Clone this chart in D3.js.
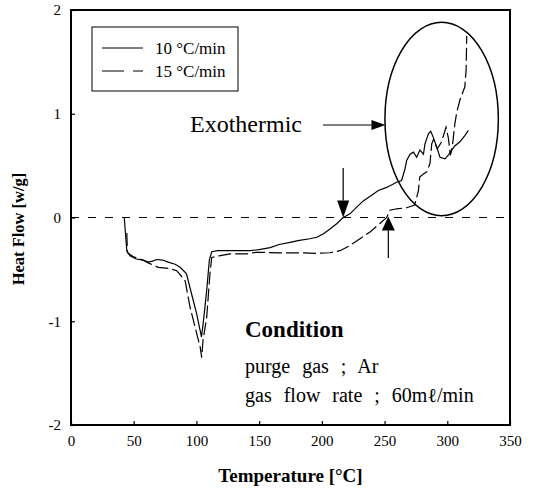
<!DOCTYPE html>
<html>
<head>
<meta charset="utf-8">
<script src="https://cdn.jsdelivr.net/npm/d3@7"></script>
<style>
    body { margin: 0; background: #fff; }
    svg { display: block; font-family: 'Liberation Serif', 'Times New Roman', serif; }
    .axis path, .axis line { stroke: #000; stroke-width: 1.2; }
    .axis text { font-size: 15px; fill: #000; font-family: 'Liberation Serif', 'Times New Roman', serif; }
</style>
</head>
<body>
<svg id="Dsc" width="534" height="495"></svg>
<script>
// 10 °C/min (solid)
var rate10Temp = [42.5, 43.2, 44.5, 47, 52, 57.7, 61.7, 65, 68.3, 73, 77.5, 83, 87, 92, 96, 100, 104,
    105.4, 108.2, 110.3, 112.2, 117, 125, 135, 142.7, 150, 158.7, 166, 174.6, 182, 190.5, 196, 201,
    206.5, 211.8, 217, 222.4, 227.8, 233, 238, 245, 251.7, 259.6, 263.6, 266.3, 267.6, 270.3, 273,
    275.6, 278.2, 281, 282.2, 285, 286.8, 288.9, 291.6, 294.2, 298.2, 300.8, 303.5, 306, 310, 314, 316.8];
var rate10Heat = [0, -0.12, -0.32, -0.37, -0.4, -0.41, -0.43, -0.42, -0.405, -0.41, -0.43, -0.45, -0.48,
    -0.54, -0.73, -0.92, -1.15, -1.02, -0.7, -0.41, -0.33, -0.32, -0.32, -0.32, -0.32, -0.31, -0.29,
    -0.26, -0.24, -0.22, -0.205, -0.19, -0.16, -0.11, -0.06, 0, 0.035, 0.1, 0.16, 0.2, 0.26, 0.29,
    0.34, 0.357, 0.47, 0.55, 0.61, 0.63, 0.58, 0.65, 0.61, 0.71, 0.81, 0.83, 0.77, 0.68, 0.58, 0.565,
    0.6, 0.65, 0.69, 0.73, 0.79, 0.84];
// 15 °C/min (dashed)
var rate15Temp = [44.5, 45, 50, 57, 62, 69.6, 77.6, 84, 85.5, 91, 95, 99, 103, 104.2, 105.2, 108.2,
    110.8, 112.2, 118, 126.8, 140, 148, 166.6, 182.6, 195, 206.5, 214.5, 222.4, 230.4, 238.4, 246,
    251.7, 254.3, 259.7, 267.6, 274, 277, 278, 281, 283.6, 286.2, 287.6, 289, 292, 295, 297, 299,
    300.8, 302.5, 304, 306, 307.5, 310, 314, 315, 315.5];
var rate15Heat = [-0.15, -0.34, -0.38, -0.41, -0.44, -0.48, -0.49, -0.51, -0.53, -0.61, -0.87, -1.06,
    -1.25, -1.35, -1.19, -0.96, -0.54, -0.385, -0.37, -0.35, -0.35, -0.335, -0.34, -0.34, -0.345,
    -0.34, -0.32, -0.27, -0.205, -0.14, -0.06, 0, 0.07, 0.084, 0.094, 0.12, 0.26, 0.39, 0.42, 0.44,
    0.52, 0.71, 0.75, 0.66, 0.72, 0.79, 0.87, 0.77, 0.6, 0.68, 0.9, 1.01, 1.13, 1.26, 1.42, 1.75];
var xTicks = [0, 50, 100, 150, 200, 250, 300, 350];
var yTicks = [-2, -1, 0, 1, 2];
var legendLabels = ['10 \u00B0C/min', '15 \u00B0C/min'];
var onsetTemps = [217, 253];
var conditionLines = ['purge gas ; Ar', 'gas flow rate ; 60m\u2113/min'];

var serif = "'Liberation Serif', 'Times New Roman', serif";
var svg = d3.select('#Dsc');
var plotLeft = 71;
var plotRight = 510;
var plotTop = 10;
var plotBottom = 425;
var xScale = d3.scaleLinear().domain([0, 350]).range([plotLeft, plotRight]);
var yScale = d3.scaleLinear().domain([-2, 2]).range([plotBottom, plotTop]);

var xAxis = d3.axisBottom(xScale).tickValues(xTicks).tickSizeInner(-4).tickSizeOuter(0).tickPadding(10);
var yAxis = d3.axisLeft(yScale).tickValues(yTicks).tickSizeInner(-4).tickSizeOuter(0).tickPadding(10)
    .tickFormat(function (d) { return d < 0 ? '-' + (-d) : d; });
svg.append('g')
    .attr('class', 'axis')
    .attr('transform', 'translate(0, ' + plotBottom + ')')
    .call(xAxis)
    .attr('font-family', serif)
    .attr('font-size', 15)
    .call(function (g) { g.select('.domain').remove(); });
svg.append('g')
    .attr('class', 'axis')
    .attr('transform', 'translate(' + plotLeft + ', 0)')
    .call(yAxis)
    .attr('font-family', serif)
    .attr('font-size', 15)
    .call(function (g) { g.select('.domain').remove(); });

// frame
svg.append('rect')
    .attr('x', plotLeft)
    .attr('y', plotTop)
    .attr('width', plotRight - plotLeft)
    .attr('height', plotBottom - plotTop)
    .attr('fill', 'none')
    .attr('stroke', '#000')
    .attr('stroke-width', 2);

// zero line
svg.append('line')
    .attr('x1', plotLeft)
    .attr('x2', plotRight)
    .attr('y1', yScale(0))
    .attr('y2', yScale(0))
    .attr('stroke', '#000')
    .attr('stroke-width', 1.2)
    .attr('stroke-dasharray', '8,9');

function drawCurve(temps, heats, dash) {
    var pts = temps.map(function (t, i) { return [t, heats[i]]; });
    var line = d3.line()
        .x(function (d) { return xScale(d[0]); })
        .y(function (d) { return yScale(d[1]); });
    svg.append('path')
        .attr('d', line(pts))
        .attr('fill', 'none')
        .attr('stroke', '#000')
        .attr('stroke-width', 1.2)
        .attr('stroke-dasharray', dash);
}
drawCurve(rate10Temp, rate10Heat, null);
drawCurve(rate15Temp, rate15Heat, '13,4');

// legend
var legend = svg.append('g');
legend.append('rect')
    .attr('x', 92)
    .attr('y', 27)
    .attr('width', 146)
    .attr('height', 64)
    .attr('fill', '#fff')
    .attr('stroke', '#000')
    .attr('stroke-width', 1);
legendLabels.forEach(function (label, i) {
    var y = 48 + i * 23;
    legend.append('line')
        .attr('x1', 102)
        .attr('x2', 143)
        .attr('y1', y)
        .attr('y2', y)
        .attr('stroke', '#000')
        .attr('stroke-width', 1)
        .attr('stroke-dasharray', i === 0 ? null : '22,9');
    legend.append('text')
        .attr('x', 155)
        .attr('y', y + 6)
        .attr('font-size', 17)
        .text(label);
});

// arrows
function arrow(x1, y1, x2, y2, len, half) {
    var a = Math.atan2(y2 - y1, x2 - x1);
    var bx = x2 - len * Math.cos(a);
    var by = y2 - len * Math.sin(a);
    svg.append('line')
        .attr('x1', x1).attr('y1', y1)
        .attr('x2', bx).attr('y2', by)
        .attr('stroke', '#000')
        .attr('stroke-width', 1.2);
    svg.append('path')
        .attr('d', 'M' + x2 + ',' + y2 +
            'L' + (bx - half * Math.sin(a)) + ',' + (by + half * Math.cos(a)) +
            'L' + (bx + half * Math.sin(a)) + ',' + (by - half * Math.cos(a)) + 'Z')
        .attr('fill', '#000');
}
arrow(xScale(onsetTemps[0]), 168, xScale(onsetTemps[0]), yScale(0), 17, 6);
arrow(xScale(onsetTemps[1]), 258, xScale(onsetTemps[1]), yScale(0) - 1, 14, 6.5);

// exothermic ellipse
var ellipseCx = xScale(295.5);
var ellipseCy = yScale(0.95);
var ellipseRx = xScale(45.2) - xScale(0);
var ellipseRy = yScale(0) - yScale(0.932);
svg.append('ellipse')
    .attr('cx', ellipseCx)
    .attr('cy', ellipseCy)
    .attr('rx', ellipseRx)
    .attr('ry', ellipseRy)
    .attr('fill', 'none')
    .attr('stroke', '#000')
    .attr('stroke-width', 1.5);
arrow(323, 125, ellipseCx - ellipseRx + 0.5, 125, 14, 5);
svg.append('text')
    .attr('x', 190)
    .attr('y', 132)
    .attr('font-size', 24)
    .text('Exothermic');

// condition
svg.append('text')
    .attr('x', 245)
    .attr('y', 337)
    .attr('font-size', 23)
    .attr('font-weight', 'bold')
    .text('Condition');
conditionLines.forEach(function (t, i) {
    svg.append('text')
        .attr('x', 245)
        .attr('y', 373 + i * 29)
        .attr('font-size', 20)
        .attr('word-spacing', 7)
        .text(t);
});

// axis titles
svg.append('text')
    .attr('x', (plotLeft + plotRight) / 2)
    .attr('y', 482)
    .attr('text-anchor', 'middle')
    .attr('font-size', 19)
    .attr('font-weight', 'bold')
    .text('Temperature [\u00B0C]');
svg.append('text')
    .attr('transform', 'translate(24, 229) rotate(-90)')
    .attr('text-anchor', 'middle')
    .attr('font-size', 16.5)
    .attr('font-weight', 'bold')
    .text('Heat Flow [w/g]');
</script>
</body>
</html>
